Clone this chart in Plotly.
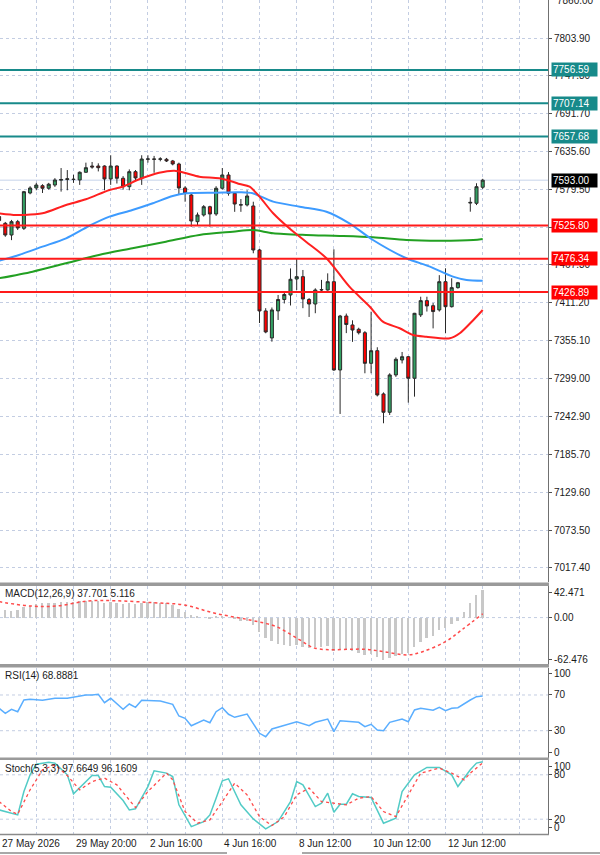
import plotly.graph_objects as go

# ---------------- data ----------------
bar_idx = list(range(79))
opens = [7539, 7529, 7511.6, 7531.4, 7521.5, 7574, 7581.4, 7584.8, 7581, 7585.8,
         7593, 7594, 7594.5, 7593.3, 7604.7, 7614, 7614, 7614, 7594.8, 7614,
         7595.8, 7583.3, 7605.6, 7596, 7624, 7624.5, 7624, 7624, 7621.5, 7617,
         7581.4, 7571, 7531.4, 7541.3, 7553.6, 7542.8, 7581, 7600.7, 7573.5, 7556,
         7556.2, 7554.7, 7489.4, 7398.9, 7358.8, 7399, 7415.9, 7422.6, 7446.3, 7449.8,
         7415.9, 7409.2, 7430, 7430, 7442.3, 7311.3, 7391.4, 7378.1, 7371.7, 7366.6,
         7321.2, 7339.9, 7275.7, 7248.5, 7303.9, 7326.1, 7331, 7299, 7393, 7414.2,
         7406.7, 7400.4, 7442.3, 7405.2, 7433.5, None, 7559, 7558.7, 7582.5]
highs = [7542, 7531, 7534, 7534, 7577, 7584, 7589, 7587, 7589, 7596,
         7611, 7608, 7601, 7606, 7619, 7620, 7618, 7615, 7630, 7615,
         7599, 7609, 7608, 7630, 7630, 7629, 7627, 7626, 7623, 7619,
         7584, 7573, 7545, 7556, 7555, 7584, 7611, 7605, 7575, 7565,
         7578, 7561, 7491, 7403, 7404, 7422.6, 7427.5, 7462, 7476, 7459.7,
         7418, 7432.5, 7445, 7454.7, 7490.4, 7393, 7395, 7385, 7374, 7369,
         7397.8, 7345, 7278, 7306.4, 7330, 7338, 7332, 7396, 7420, 7420,
         7410.6, 7452, 7462.2, 7447.4, 7442, None, 7567.6, 7588.4, 7595]
lows = [7530, 7509, 7504, 7519, 7519, 7572, 7578, 7574, 7579, 7583,
        7576, 7578, 7589, 7586, 7604, 7610, 7606, 7578, 7586, 7588,
        7579, 7578, 7593, 7586, 7619, 7604, 7621, 7620, 7615, 7571,
        7561, 7524, 7526, 7539, 7524, 7540, 7579, 7570, 7546, 7546,
        7554, 7484.5, 7381, 7365.8, 7353.3, 7385.5, 7410, 7407, 7430, 7403,
        7390, 7395.5, 7427.5, 7429, 7310, 7246, 7366, 7353, 7364, 7306.4,
        7306.4, 7272, 7232.2, 7244.5, 7301, 7321, 7262.8, 7271.7, 7389.9, 7398,
        7373, 7398, 7365.8, 7404, 7432, None, 7546.2, 7556, 7580]
closes = [7533, 7511.6, 7531.4, 7522, 7575.9, 7581.4, 7585.8, 7581, 7587, 7593.3,
          7594, 7595, 7594, 7604.7, 7611.5, 7612.6, 7611.5, 7594.8, 7614, 7595.8,
          7583.3, 7605.6, 7596.3, 7624.4, 7624.5, 7624, 7624.5, 7621.5, 7617, 7581.4,
          7573.5, 7532.4, 7541.3, 7553.6, 7542.8, 7581, 7600.7, 7573.5, 7557.6, 7556.5,
          7569.5, 7489.4, 7398.9, 7367.7, 7400.4, 7415.9, 7423.3, 7445.9, 7449.8, 7416.7,
          7409.2, 7430, 7430.5, 7442.3, 7311.3, 7391.4, 7378.8, 7370.6, 7366.6, 7321.2,
          7339.9, 7274.2, 7248.5, 7303.9, 7327.2, 7331, 7299, 7395.4, 7414.2, 7406.3,
          7398, 7442.3, 7405.2, 7433.5, 7440.8, None, 7560, 7583.3, 7593]

date_tick_idx = [0, 12, 24, 36, 48, 60, 72]
date_tick_text = ["27 May 2026", "29 May 20:00", "2 Jun 16:00", "4 Jun 16:00",
                  "8 Jun 12:00", "10 Jun 12:00", "12 Jun 12:00"]
grid_idx = list(range(0, 90, 6))

price_tick_vals = [7860.00, 7803.90, 7747.80, 7691.70, 7635.60, 7579.50, 7523.40,
                   7467.30, 7411.20, 7355.10, 7299.00, 7242.90, 7185.70, 7129.60,
                   7073.50, 7017.40]
resist_levels = [7756.59, 7707.14, 7657.68]
support_levels = [7525.80, 7476.34, 7426.89]
last_price = 7593.00

ma_fast_idx = [0, 2.7, 4, 7, 10.8, 14, 17.8, 19.9, 22.6, 25.8, 28.3, 30.2, 32.3, 35.5,
               37.7, 38.8, 40.4, 42, 44.2, 46.8, 49.5, 52.8, 56.5, 59.8, 61.9, 64.6,
               66.8, 68.9, 72.7, 74.3, 76.5, 78]
ma_fast_val = [7543.8, 7541.3, 7541.3, 7543.8, 7556.2, 7564.6, 7578.4, 7583.3, 7594.3,
               7604.1, 7607.1, 7603.2, 7598.2, 7595.8, 7590.7, 7587.3, 7583.3, 7568.5,
               7543.8, 7521.6, 7501.7, 7477.1, 7434.9, 7405.2, 7383.0, 7373.2, 7363.2,
               7360.7, 7358.3, 7365.7, 7385.5, 7400.3]
ma_mid_idx = [0, 3.2, 7, 10.8, 14.5, 17.8, 21.5, 24.8, 28, 30.2, 35, 38.8, 40.9, 44.2,
              48.5, 52.8, 56.5, 60.3, 65.7, 69.5, 73.2, 75.4, 78]
ma_mid_val = [7473.5, 7482.0, 7494.3, 7506.7, 7525.0, 7538.8, 7548.7, 7558.7, 7569.5,
              7573.5, 7574.4, 7575.0, 7573.5, 7561.1, 7553.6, 7546.2, 7529.0, 7504.2,
              7477.1, 7464.6, 7449.8, 7444.9, 7443.8]
ma_slow_idx = [0, 5.4, 10.8, 16.1, 21.5, 26.9, 32.3, 37.7, 40.9, 44.2, 49.5, 54.9,
               60.3, 65.7, 71.1, 76.5, 78]
ma_slow_val = [7447.4, 7457.2, 7469.6, 7482.0, 7491.9, 7501.7, 7511.6, 7516.5, 7519.1,
               7514.2, 7511.6, 7510.2, 7508.2, 7504.2, 7503.2, 7504.2, 7505.7]

macd_hist = [10, 10, 9, 10, 14, 16, 18, 19, 19, 20,
             21, 21, 21, 22, 22, 22, 22, 20, 21, 20,
             18, 19, 18, 20, 21, 21, 20, 19, 17, 12,
             8, 3, 1, 0, -1, 1, 2, 0, -2, -4,
             -5, -10, -20, -28, -32, -35, -37, -38, -37, -39,
             -41, -40, -39, -38, -45, -42, -43, -45, -47, -50,
             -49, -53, -57, -55, -52, -49, -48, -40, -33, -28,
             -25, -17, -14, -9, -5, 7, 19, 30, 37.701]
macd_sig_idx = [0, 5, 9.3, 14.3, 18.6, 24.8, 29.8, 34.8, 40.4, 44.7, 48.5, 51, 59,
                62.1, 65.9, 68.3, 72, 74.6, 78]
macd_sig_val = [21.4, 15.6, 15.6, 22.3, 22.7, 20, 17, 5.8, -3.2, -12.2, -30.1, -41.3,
                -42.7, -45.9, -50.3, -45.9, -32.4, -16.7, 5.116]
macd_max, macd_min = 42.471, -62.476

rsi_idx = [0, 1, 2, 3, 4, 5, 7, 9, 11, 12, 14, 15, 16, 17, 18, 20, 21, 22, 23, 26, 28,
           29, 30, 31, 33, 34, 35, 36, 37, 38, 40, 42, 43, 44, 46, 48, 50, 51, 53, 54,
           55, 58, 59, 60, 61, 62, 63, 65, 66, 67, 68, 70, 71, 72, 73, 74, 76, 77, 78]
rsi_val = [55.1, 49.5, 54, 51.3, 64.4, 65.2, 64, 66.3, 66.3, 67.8, 70, 70, 70.8, 61.4,
           66.3, 54, 59.9, 56.2, 64, 63.3, 59.6, 46.5, 43.9, 35.6, 42, 39, 51.3, 55.8,
           48.4, 45, 48.7, 27.1, 23.3, 31.9, 35.6, 40.1, 35.6, 39.4, 43.1, 28.9, 41.2,
           39.4, 34.5, 37.2, 30.8, 30, 39.4, 43.1, 40.1, 53.2, 55.1, 52.9, 56.2, 52.4,
           55.1, 55.8, 64.4, 68.1, 68.8881]

stoch_k_idx = [0, 3, 4, 5, 6, 8, 9, 11, 12, 13, 15, 16, 17, 18, 20, 21, 22, 24, 25, 27,
               28, 29, 31, 33, 34, 35, 36, 37, 39, 41, 43, 45, 47, 48, 49, 51, 52, 53,
               54, 55, 56, 57, 58, 60, 62, 64, 65, 67, 69, 71, 73, 74, 76, 77, 78]
stoch_k_val = [32.6, 25.8, 57.4, 80, 94.4, 97.1, 95.8, 80, 54.3, 62.8, 79, 79, 64.1,
               63.3, 45.2, 32.6, 34, 64.1, 85.4, 82.3, 77.7, 39.4, 10, 16.8, 25.8, 48.4,
               71.9, 74.6, 39.4, 20.4, 6.9, 16.8, 43.8, 70.9, 66.4, 37.1, 41.7, 55.2,
               29.5, 40.3, 40.3, 54.3, 50.6, 49.3, 14.6, 21.4, 57.4, 80, 89.9, 89.9, 80,
               64.1, 86.7, 95.8, 97.6649]
stoch_d_idx = [0, 2, 3, 5, 7, 9, 11, 13, 15, 17, 19, 21, 22, 24, 27, 28, 30, 32, 34,
               36, 38, 40, 42, 44, 46, 48, 50, 52, 54, 56, 58, 60, 62, 64, 66, 68, 71,
               73, 75, 76, 78]
stoch_d_val = [43.8, 30.3, 26.8, 59.7, 86.7, 93.5, 79, 59.7, 70.9, 75.5, 66.4, 46.1,
               35.7, 57.4, 82.3, 73.2, 30.3, 14.6, 19.1, 43.8, 68.7, 52.9, 23.5, 11.4,
               23.5, 52.9, 62, 43.8, 41.7, 39.4, 48.4, 50.6, 30.3, 23.5, 52.9, 82.3, 89,
               82.3, 73.2, 82.3, 96.1609]

# ---------------- layout geometry (pixels) ----------------
W, H = 600, 855
PLOT_BOTTOM = 834.0          # bottom edge of plotting area in page px
PLOT_RIGHT = 548.0


def py(Y):
    return (PLOT_BOTTOM - Y) / PLOT_BOTTOM


def px(X):
    return X / PLOT_RIGHT


price_px = (0, 582)
macd_px = (586, 664)
rsi_px = (668.2, 757.5)
stoch_px = (760, 834)

FONT = "Liberation Sans, Arial, sans-serif"
TXT = "#1a1a1a"
GRID = "#c3cde2"
BORDER = "#8a8a8a"

fig = go.Figure()

# price panel
fig.add_trace(go.Candlestick(
    x=bar_idx, open=opens, high=highs, low=lows, close=closes,
    xaxis="x", yaxis="y", whiskerwidth=0,
    increasing=dict(fillcolor="#33a063", line=dict(color="#2a2a2a", width=1)),
    decreasing=dict(fillcolor="#ff0000", line=dict(color="#2a2a2a", width=1)),
    showlegend=False, hoverinfo="skip"))
for ix, vals, col in [(ma_slow_idx, ma_slow_val, "#22a022"),
                      (ma_mid_idx, ma_mid_val, "#3d9bff"),
                      (ma_fast_idx, ma_fast_val, "#ff2020")]:
    fig.add_trace(go.Scatter(x=ix, y=vals, mode="lines", xaxis="x", yaxis="y",
                             line=dict(color=col, width=2, shape="spline", smoothing=0.8),
                             showlegend=False, hoverinfo="skip"))

# MACD
fig.add_trace(go.Bar(x=bar_idx, y=macd_hist, xaxis="x2", yaxis="y2", width=0.3,
                     marker=dict(color="#c8c8c8", line=dict(width=0)),
                     showlegend=False, hoverinfo="skip"))
fig.add_trace(go.Scatter(x=macd_sig_idx, y=macd_sig_val, mode="lines", xaxis="x2", yaxis="y2",
                         line=dict(color="#ff4a4a", width=1.5, dash="dot", shape="spline"),
                         showlegend=False, hoverinfo="skip"))

# RSI
fig.add_trace(go.Scatter(x=rsi_idx, y=rsi_val, mode="lines", xaxis="x3", yaxis="y3",
                         line=dict(color="#5aaeff", width=1.5),
                         showlegend=False, hoverinfo="skip"))

# Stochastic
fig.add_trace(go.Scatter(x=stoch_k_idx, y=stoch_k_val, mode="lines", xaxis="x4", yaxis="y4",
                         line=dict(color="#52cbc6", width=1.5),
                         showlegend=False, hoverinfo="skip"))
fig.add_trace(go.Scatter(x=stoch_d_idx, y=stoch_d_val, mode="lines", xaxis="x4", yaxis="y4",
                         line=dict(color="#ff4a4a", width=1.3, dash="dot"),
                         showlegend=False, hoverinfo="skip"))

# x range: bar i sits at 6.2*i - 0.9 px
x_lo = 0.9 / 6.2
x_hi = (PLOT_RIGHT + 0.9) / 6.2

xcommon = dict(range=[x_lo, x_hi], showticklabels=False, ticks="", zeroline=False,
               showgrid=True, gridcolor=GRID, griddash="dot", gridwidth=1,
               tickmode="array", tickvals=grid_idx, showline=False,
               rangeslider=dict(visible=False), fixedrange=True)

ycommon = dict(side="right", zeroline=False, showline=True, linecolor="#707070",
               linewidth=1, ticks="outside", ticklen=3, tickcolor="#505050",
               tickfont=dict(family=FONT, size=10, color=TXT), fixedrange=True)


def label_vals(lo, hi, span_px, labels, offsets_px):
    scale = (hi - lo) / span_px
    return [v + o * scale for v, o in zip(labels, offsets_px)]


macd_ticks = label_vals(macd_min, macd_max, macd_px[1] - macd_px[0],
                        [macd_max, 0.0, macd_min], [-6.7, 0, 5])
rsi_ticks = label_vals(0, 100, rsi_px[1] - rsi_px[0], [100, 70, 30, 0], [-5, 0, 0, 5])
stoch_ticks = label_vals(0, 100, stoch_px[1] - stoch_px[0], [100, 80, 20, 0], [-6.5, 0, 0, 6.3])

price_range = [6996.6, 7860.4]
fig.update_layout(
    width=W, height=H,
    margin=dict(l=0, r=W - PLOT_RIGHT, t=0, b=H - PLOT_BOTTOM),
    paper_bgcolor="white", plot_bgcolor="white",
    font=dict(family=FONT, size=10, color=TXT),
    bargap=0,
    xaxis=dict(**xcommon, anchor="y", domain=[0, 1]),
    xaxis2=dict(**xcommon, anchor="y2", domain=[0, 1], matches="x"),
    xaxis3=dict(**xcommon, anchor="y3", domain=[0, 1], matches="x"),
    xaxis4=dict(**xcommon, anchor="y4", domain=[0, 1], matches="x"),
    yaxis=dict(**ycommon, anchor="x", domain=[py(price_px[1]), py(price_px[0])],
               range=price_range, tickmode="array", tickvals=price_tick_vals[1:],
               ticktext=[f"{v:.2f}" for v in price_tick_vals[1:]],
               showgrid=True, gridcolor=GRID, griddash="dot"),
    yaxis2=dict(**ycommon, anchor="x2", domain=[py(macd_px[1]), py(macd_px[0])],
                range=[macd_min, macd_max], tickmode="array", tickvals=macd_ticks,
                ticktext=[f"{macd_max:.3f}", "0.00", f"{macd_min:.3f}"], showgrid=False),
    yaxis3=dict(**ycommon, anchor="x3", domain=[py(rsi_px[1]), py(rsi_px[0])],
                range=[0, 100], tickmode="array", tickvals=rsi_ticks,
                ticktext=["100", "70", "30", "0"], showgrid=False),
    yaxis4=dict(**ycommon, anchor="x4", domain=[py(stoch_px[1]), py(stoch_px[0])],
                range=[0, 100], tickmode="array", tickvals=stoch_ticks,
                ticktext=["100", "80", "20", "0"], showgrid=False),
)

shapes = []
annots = []

# top price label, half cut by the page edge as in the reference
annots.append(dict(xref="paper", yref="y", x=px(555), y=price_tick_vals[0],
                   xanchor="left", yanchor="middle", text=f"{price_tick_vals[0]:.2f}",
                   showarrow=False, font=dict(family=FONT, size=10, color=TXT)))

# dotted level lines in indicator panels
for yref, lvl in [("y2", 0.0), ("y3", 70), ("y3", 30), ("y4", 80), ("y4", 20)]:
    shapes.append(dict(type="line", xref="paper", yref=yref, x0=0, x1=1, y0=lvl, y1=lvl,
                       line=dict(color=GRID, width=1, dash="dot"), layer="below"))

# current price line
shapes.append(dict(type="line", xref="paper", yref="y", x0=0, x1=1, y0=last_price,
                   y1=last_price, line=dict(color="#c6d4ea", width=1), layer="below"))

# resistance / support lines with value boxes
for lvl in resist_levels:
    shapes.append(dict(type="line", xref="paper", yref="y", x0=0, x1=1, y0=lvl, y1=lvl,
                       line=dict(color="#178a8a", width=2)))
for lvl in support_levels:
    shapes.append(dict(type="line", xref="paper", yref="y", x0=0, x1=1, y0=lvl, y1=lvl,
                       line=dict(color="#ff1a1a", width=2)))

box_x = px(551)
for lvl, bg in ([(v, "#178a8a") for v in resist_levels] +
                [(v, "#ff0000") for v in support_levels] + [(last_price, "#000000")]):
    annots.append(dict(xref="paper", yref="y", x=box_x, y=lvl, xanchor="left",
                       yanchor="middle", text=f"{lvl:.2f}", showarrow=False,
                       bgcolor=bg, font=dict(family=FONT, size=10, color="white"),
                       width=43, align="left", borderpad=1))

# panel separators
for top, bot in [(582.5, 586), (664, 667.5), (757.5, 760)]:
    shapes.append(dict(type="rect", xref="paper", yref="paper", x0=0, x1=px(PLOT_RIGHT + 1),
                       y0=py(bot), y1=py(top), fillcolor="#9a9a9a",
                       line=dict(width=0)))
shapes.append(dict(type="line", xref="paper", yref="paper", x0=0, x1=px(PLOT_RIGHT + 1),
                   y0=py(834.5), y1=py(834.5), line=dict(color=BORDER, width=1.5)))
# bottom tab strip
shapes.append(dict(type="line", xref="paper", yref="paper", x0=0, x1=px(227),
                   y0=py(853), y1=py(853), line=dict(color="#a8a8a8", width=2)))
shapes.append(dict(type="line", xref="paper", yref="paper", x0=px(302), x1=px(600),
                   y0=py(853), y1=py(853), line=dict(color="#a8a8a8", width=2)))

# indicator titles
for text, Y in [("MACD(12,26,9) 37.701 5.116", 593.5),
                ("RSI(14) 68.8881", 675),
                ("Stoch(5,3,3) 97.6649 96.1609", 768.5)]:
    annots.append(dict(xref="paper", yref="paper", x=px(3), y=py(Y), xanchor="left",
                       yanchor="middle", text=text, showarrow=False,
                       font=dict(family=FONT, size=10, color=TXT)))

# date labels
for i, t in zip(date_tick_idx, date_tick_text):
    annots.append(dict(xref="x4", yref="paper", x=max(i, x_lo), y=py(843.5),
                       xanchor="left", yanchor="middle", text=t, showarrow=False,
                       font=dict(family=FONT, size=10, color=TXT)))

fig.update_layout(shapes=shapes, annotations=annots)

fig.write_html("out.html")
